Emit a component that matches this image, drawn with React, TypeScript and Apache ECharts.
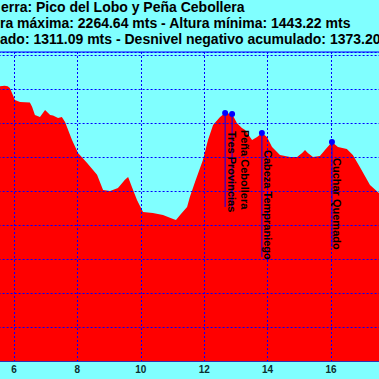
import React, { useEffect, useRef } from 'react';
import * as echarts from 'echarts';

const TITLE_LINES = [
  'erra: Pico del Lobo y Peña Cebollera',
  'ra máxima: 2264.64 mts - Altura mínima: 1443.22 mts',
  'ado: 1311.09 mts - Desnivel negativo acumulado: 1373.20',
];

const KM = [
  5.5, 5.56, 5.7, 5.8, 5.87, 6.03, 6.19, 6.5, 6.57, 6.66, 6.82, 6.98, 7.14, 7.23, 7.39, 7.51, 7.61,
  7.83, 8.02, 8.3, 8.62, 8.81, 9.03, 9.28, 9.5, 9.6, 9.72, 9.88, 10.07, 10.38, 10.7, 11.02, 11.11,
  11.24, 11.46, 11.55, 11.71, 11.96, 12.12, 12.28, 12.5, 12.66, 12.88, 13.03, 13.19, 13.29, 13.51,
  13.67, 13.82, 13.98, 14.14, 14.39, 14.71, 14.93, 15.09, 15.18, 15.27, 15.43, 15.65, 15.81, 16.03,
  16.22, 16.5, 16.69, 16.91, 17.23, 17.51, 17.6,
];
const ALT = [
  2256, 2262, 2264, 2262, 2254, 2201, 2193, 2190, 2171, 2135, 2126, 2157, 2135, 2133, 2122, 2126, 2104,
  2025, 1968, 1924, 1871, 1804, 1800, 1813, 1849, 1862, 1818, 1760, 1707, 1703, 1694, 1676, 1672,
  1694, 1729, 1774, 1840, 1937, 2025, 2091, 2126, 2144, 2140, 2100, 2078, 2069, 2025,
  2038, 2056, 2038, 1994, 1959, 1950, 1950, 1968, 1981, 1968, 1950, 1954, 1981, 2016,
  1994, 1985, 1959, 1906, 1826, 1791, 1780,
];

const PEAK_NAMES = ['Tres Provincias', 'Peña Cebollera', 'Cabeza Tempraniego', 'Cuchar Quemado'];
const PEAK_KM = [12.66, 12.88, 13.82, 16.03];
const PEAK_ALT = [2144, 2140, 2056, 2016];

const PIN_LEN = [94, 93, 124, 105];
const LABEL_POS = [
  [4, 21],
  [10, 19],
  [4, 20],
  [3, 19],
];

const FONT = '"Liberation Sans", Arial, Helvetica, sans-serif';

function pinPath(L: number) {
  return `path://M0,3 A3,3 0 1,1 6,3 A3,3 0 1,1 0,3 Z M2.5,3 L3.5,3 L3.5,${3 + L} L2.5,${3 + L} Z`;
}

export default function App() {
  const ref = useRef<HTMLDivElement>(null);
  useEffect(() => {
    const chart = echarts.init(ref.current!, null, { renderer: 'svg' });
    const grid = '#0000ff';
    chart.setOption({
      animation: false,
      backgroundColor: '#80ffff',
      graphic: TITLE_LINES.map((t, i) => ({
        type: 'text',
        x: i === 0 ? 1 : 0,
        y: 7 + i * 16,
        style: {
          text: t,
          fill: '#000',
          font: `bold 14px ${FONT}`,
          verticalAlign: 'middle',
        },
      })),
      grid: {
        left: -49.4,
        right: -15.4,
        top: 52,
        bottom: 18,
        containLabel: false,
        outerBoundsMode: 'none',
        show: true,
        borderColor: '#0000ff',
        borderWidth: 1,
        backgroundColor: 'transparent',
      },
      xAxis: {
        type: 'value',
        min: 4,
        max: 18,
        interval: 2,
        z: 3,
        axisLine: { show: true, lineStyle: { color: '#3030b0', width: 1 } },
        axisTick: { show: false },
        axisLabel: {
          color: '#0a3030',
          fontWeight: 'bold',
          fontSize: 10,
          fontFamily: FONT,
          margin: 3,
          showMinLabel: false,
          showMaxLabel: false,
        },
        splitLine: { show: true, lineStyle: { color: grid, type: [2, 2], width: 1 } },
      },
      yAxis: {
        type: 'value',
        min: 1050,
        max: 2413,
        interval: 150,
        z: 3,
        axisLine: { show: false },
        axisTick: { show: false },
        axisLabel: { show: false },
        splitLine: { show: true, lineStyle: { color: grid, type: [2, 2], width: 1 } },
      },
      series: [
        {
          type: 'line',
          data: KM.map((k, i) => [k, ALT[i]]),
          showSymbol: false,
          symbol: 'none',
          lineStyle: { width: 0, color: '#ff0000' },
          areaStyle: { color: '#ff0000', opacity: 1, origin: 'start' },
          z: 2,
          markPoint: {
            z: 5,
            itemStyle: { color: '#0000ff' },
            label: {
              show: true,
              formatter: '{b}',
              rotate: -90,
              align: 'left',
              verticalAlign: 'bottom',
              color: '#000',
              fontWeight: 'bold',
              fontSize: 11,
              fontFamily: FONT,
            },
            data: PEAK_NAMES.map((n, i) => ({
              name: n,
              coord: [PEAK_KM[i], PEAK_ALT[i]],
              symbol: pinPath(PIN_LEN[i]),
              symbolSize: [6, 3 + PIN_LEN[i]],
              symbolOffset: [0, (PIN_LEN[i] - 3) / 2],
              label: { position: LABEL_POS[i] },
            })),
          },
        },
      ],
    });
    return () => chart.dispose();
  }, []);
  return <div ref={ref} style={{ position: 'fixed', left: 0, top: 0, width: 379, height: 379 }} />;
}
